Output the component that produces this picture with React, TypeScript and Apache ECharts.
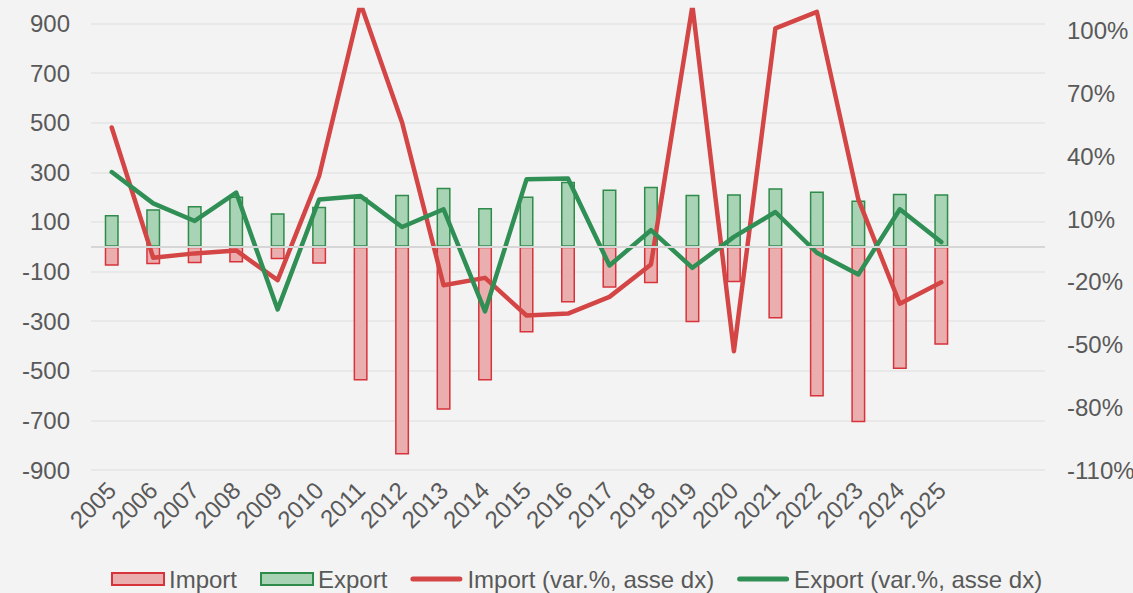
import React, { useEffect, useRef } from "react";
import * as echarts from "echarts";

const years = ["2005","2006","2007","2008","2009","2010","2011","2012","2013","2014","2015","2016","2017","2018","2019","2020","2021","2022","2023","2024","2025","",""];
const importVals = [-77,-71,-67,-64,-51,-69,-539,-838,-657,-539,-346,-225,-165,-147,-304,-143,-289,-604,-708,-493,-395];
const exportVals = [128,151,164,202,135,161,198,209,238,156,202,262,231,242,209,211,236,222,186,213,211];
const importVar = [53.8,-8.5,-6.4,-5.0,-19.2,30.6,113,56.2,-21.6,-18.1,-36.1,-35.2,-27.2,-11.7,112,-53.2,101.2,109.1,19.4,-30.5,-20.2];
const exportVar = [32.5,17.5,9.1,22.7,-33.2,19.4,21.0,6.2,14.7,-34.1,29.0,29.4,-12.2,4.7,-13.3,1.5,13.4,-6.1,-16.5,14.7,-1.0];

const leftTicks = { min: -900, max: 954, interval: 200 };
const rightTicks = { min: -110, max: 110, interval: 30 };

const FONT = 'Arial, "Liberation Sans", sans-serif';
const TXT = "#595959";
const FS = 24;
const LINE_ICON = "path://M2.5,0 L49.5,0 A2.5,2.5 0 0 1 49.5,5 L2.5,5 A2.5,2.5 0 0 1 2.5,0 Z";

export default function App() {
  const ref = useRef<HTMLDivElement>(null);
  useEffect(() => {
    const chart = echarts.init(ref.current!, null, { renderer: "svg" });
    const gridColors: string[] = [];
    for (let i = 0; i < 10; i++) gridColors.push("#e4e4e4");
    gridColors.push("transparent");
    chart.setOption({
      animation: false,
      backgroundColor: "#f3f3f3",
      textStyle: { fontFamily: FONT },
      grid: { left: 91, right: 88, top: 10, height: 460, containLabel: false, outerBoundsMode: "none" },
      legend: {
        left: 106,
        top: 562,
        itemWidth: 52,
        itemHeight: 12,
        itemGap: 23,
        symbolKeepAspect: true,
        textStyle: { fontSize: FS, color: TXT, fontFamily: FONT },
        data: [
          { name: "Import", icon: "rect" },
          { name: "Export", icon: "rect" },
          { name: "Import (var.%, asse dx)", icon: LINE_ICON, itemStyle: { color: "#d44646", borderWidth: 0 } },
          { name: "Export (var.%, asse dx)", icon: LINE_ICON, itemStyle: { color: "#2f8f55", borderWidth: 0 } },
        ],
      },
      xAxis: {
        type: "category",
        data: years,
        axisLine: { show: false },
        axisTick: { show: false },
        axisLabel: {
          rotate: 45,
          interval: 0,
          fontSize: FS,
          color: TXT,
          margin: 16,
          fontFamily: FONT,
        },
      },
      yAxis: [
        {
          type: "value",
          min: leftTicks.min,
          max: leftTicks.max,
          interval: leftTicks.interval,
          axisLine: { show: false },
          axisTick: { show: false },
          axisLabel: { fontSize: FS, color: TXT, margin: 21, showMaxLabel: false, fontFamily: FONT },
          splitLine: { show: true, lineStyle: { color: gridColors, width: 1.5 } },
        },
        {
          type: "value",
          position: "right",
          min: rightTicks.min,
          max: rightTicks.max,
          interval: rightTicks.interval,
          axisLine: { show: false },
          axisTick: { show: false },
          splitLine: { show: false },
          axisLabel: {
            fontSize: FS,
            color: TXT,
            margin: 22,
            showMaxLabel: false,
            fontFamily: FONT,
            formatter: (v: number) => `${v}%`,
          },
        },
      ],
      series: [
        {
          name: "Export",
          type: "bar",
          data: exportVals,
          barWidth: 14,
          barGap: "-100%",
          itemStyle: { color: "#a9d3b5", borderColor: "#2e8b4a", borderWidth: 1.5 },
        },
        {
          name: "Import",
          type: "bar",
          data: importVals,
          barWidth: 14,
          itemStyle: { color: "#ebaeae", borderColor: "#d6333b", borderWidth: 1.5 },
          markLine: {
            silent: true,
            symbol: "none",
            label: { show: false },
            lineStyle: { color: "#d6d6d6", width: 2, type: "solid" },
            data: [{ yAxis: 0 }],
          },
        },
        {
          name: "Import (var.%, asse dx)",
          type: "line",
          yAxisIndex: 1,
          data: importVar,
          symbol: "none",
          lineStyle: { color: "#d44646", width: 4.5, cap: "round", join: "round" },
          itemStyle: { color: "#d44646" },
        },
        {
          name: "Export (var.%, asse dx)",
          type: "line",
          yAxisIndex: 1,
          data: exportVar,
          symbol: "none",
          lineStyle: { color: "#2f8f55", width: 4.5, cap: "round", join: "round" },
          itemStyle: { color: "#2f8f55" },
        },
      ],
    });
    return () => chart.dispose();
  }, []);
  return (
    <div
      ref={ref}
      style={{ position: "fixed", left: 0, top: 0, width: 1133, height: 593 }}
    />
  );
}
